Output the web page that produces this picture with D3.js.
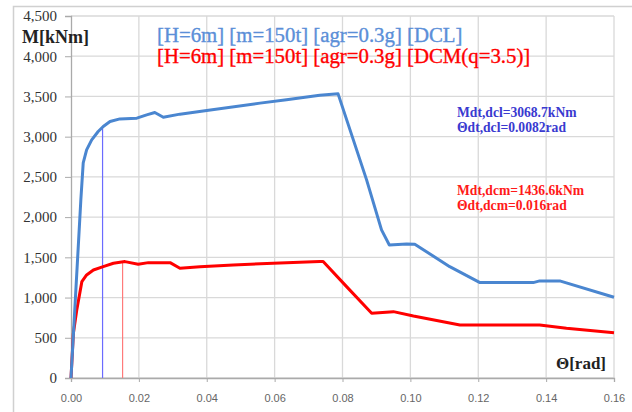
<!DOCTYPE html>
<html>
<head>
<meta charset="utf-8">
<script src="https://cdn.jsdelivr.net/npm/d3@7"></script>
<style>
  body { margin: 0; background: #fff; }
  svg { display: block; }
</style>
</head>
<body>
<svg width="632" height="412"></svg>
<script>
// DCL curve (blue), theta [rad] / M [kNm]
var dclTheta = [0, 0.0029, 0.0036, 0.0046, 0.0061, 0.0080, 0.0095, 0.0115, 0.0144, 0.0194, 0.0223, 0.0247, 0.0272, 0.0321, 0.040, 0.0557, 0.0635, 0.0733, 0.0787, 0.0871, 0.0915, 0.0938, 0.0989, 0.1013, 0.1116, 0.1205, 0.1362, 0.1381, 0.1440, 0.16];
var dclM     = [0, 2214, 2674, 2836, 2960, 3064, 3126, 3188, 3221, 3230, 3271, 3300, 3242, 3280, 3325, 3417, 3458, 3516, 3532, 2463, 1841, 1654, 1667, 1663, 1384, 1186, 1186, 1207, 1207, 1004];

// DCM curve (red)
var dcmTheta = [0, 0.0007, 0.0017, 0.0032, 0.0046, 0.0066, 0.0095, 0.0125, 0.0159, 0.0198, 0.0228, 0.0292, 0.0321, 0.038, 0.0478, 0.0596, 0.0733, 0.0743, 0.0812, 0.0886, 0.095, 0.1009, 0.1146, 0.1381, 0.146, 0.16];
var dcmM     = [0, 556, 846, 1198, 1281, 1343, 1384, 1426, 1447, 1414, 1434, 1434, 1364, 1384, 1405, 1426, 1447, 1447, 1136, 805, 825, 771, 659, 659, 618, 563];

// target displacement markers (as drawn)
var markerTheta = [0.0093, 0.0152];
var markerM = [3110, 1440];

var yTicks = [0, 500, 1000, 1500, 2000, 2500, 3000, 3500, 4000, 4500];
var xTicks = [0, 0.02, 0.04, 0.06, 0.08, 0.10, 0.12, 0.14, 0.16];

var titleDcl = "[H=6m] [m=150t] [agr=0.3g] [DCL]";
var titleDcm = "[H=6m] [m=150t] [agr=0.3g] [DCM(q=3.5)]";
var noteDcl = ["Mdt,dcl=3068.7kNm", "\u0398dt,dcl=0.0082rad"];
var noteDcm = ["Mdt,dcm=1436.6kNm", "\u0398dt,dcm=0.016rad"];

var svg = d3.select("svg");
var serif = "'Liberation Serif', 'Times New Roman', serif";

// outer chart frame
svg.append("rect")
    .attr("x", 13.5).attr("y", 6.5)
    .attr("width", 640).attr("height", 420)
    .attr("fill", "none")
    .attr("stroke", "#d0d0d0")
    .attr("stroke-width", 1.5);

var x = d3.scaleLinear().domain([0, 0.16]).range([71, 614]);
var y = d3.scaleLinear().domain([0, 4500]).range([378, 16]);

var g = svg.append("g");

// grid
g.selectAll(".hgrid").data(yTicks).enter().append("line")
    .attr("x1", x(0)).attr("x2", x(0.16))
    .attr("y1", function(d) { return y(d); })
    .attr("y2", function(d) { return y(d); })
    .attr("stroke", "#d9d9d9").attr("stroke-width", 1.3);

g.selectAll(".vgrid").data(xTicks.slice(1)).enter().append("line")
    .attr("y1", y(0)).attr("y2", y(4500))
    .attr("x1", function(d) { return x(d); })
    .attr("x2", function(d) { return x(d); })
    .attr("stroke", "#d9d9d9").attr("stroke-width", 1.3);

// axes
var yAxis = g.append("g")
    .attr("transform", "translate(" + x(0) + ",0)")
    .call(d3.axisLeft(y).tickValues(yTicks).tickSize(6).tickPadding(8)
      .tickFormat(d3.format(",")));
yAxis.attr("font-family", null).attr("font-size", null);
yAxis.select(".domain").attr("stroke", "#aaa").attr("stroke-width", 1.3);
yAxis.selectAll(".tick line").attr("stroke", "#aaa");
yAxis.selectAll("text")
    .style("font-family", serif).style("font-size", "15px")
    .attr("fill", "#333");

var xAxis = g.append("g")
    .attr("transform", "translate(0," + y(0) + ")")
    .call(d3.axisBottom(x).tickValues(xTicks).tickSize(4).tickPadding(12)
      .tickFormat(d3.format(".2f")));
xAxis.select(".domain").attr("stroke", "#aaa").attr("stroke-width", 1.3);
xAxis.selectAll(".tick line").attr("stroke", "#aaa");
xAxis.selectAll("text")
    .style("font-family", "'Liberation Sans Narrow', 'Liberation Sans', Arial, sans-serif")
    .style("font-size", "11px")
    .attr("fill", "#666");

// marker lines
var markerColors = ["#6b6bff", "#ff7a7a"];
g.selectAll(".marker").data(markerTheta).enter().append("line")
    .attr("x1", function(d) { return x(d); })
    .attr("x2", function(d) { return x(d); })
    .attr("y1", y(0))
    .attr("y2", function(d, i) { return y(markerM[i]); })
    .attr("stroke", function(d, i) { return markerColors[i]; })
    .attr("stroke-width", 1.2);

var line = d3.line()
    .x(function(d) { return x(d[0]); })
    .y(function(d) { return y(d[1]); });

g.append("path")
    .datum(d3.zip(dcmTheta, dcmM))
    .attr("fill", "none")
    .attr("stroke", "#ff0000")
    .attr("stroke-width", 3)
    .attr("stroke-linejoin", "round")
    .attr("d", line);

g.append("path")
    .datum(d3.zip(dclTheta, dclM))
    .attr("fill", "none")
    .attr("stroke", "#4a86d0")
    .attr("stroke-width", 3)
    .attr("stroke-linejoin", "round")
    .attr("d", line);

// titles
svg.append("text").attr("x", 157).attr("y", 42)
    .attr("font-family", serif).attr("font-size", 20.8)
    .attr("fill", "#5b8fd8").attr("stroke", "#5b8fd8").attr("stroke-width", 0.35)
    .text(titleDcl);
svg.append("text").attr("x", 157).attr("y", 63)
    .attr("font-family", serif).attr("font-size", 20.8)
    .attr("fill", "#ff0000").attr("stroke", "#ff0000").attr("stroke-width", 0.35)
    .text(titleDcm);

// axis titles
svg.append("text").attr("x", 22).attr("y", 43)
    .attr("font-family", serif).attr("font-size", 18).attr("font-weight", "bold")
    .attr("fill", "#222").text("M[kNm]");
svg.append("text").attr("x", 606).attr("y", 369)
    .attr("text-anchor", "end")
    .attr("font-family", serif).attr("font-size", 17).attr("font-weight", "bold")
    .attr("fill", "#222").text("\u0398[rad]");

// notes
svg.selectAll(".ndcl").data(noteDcl).enter().append("text")
    .attr("x", 457).attr("y", function(d, i) { return 117 + i * 15; })
    .attr("font-family", serif).attr("font-size", 13.6).attr("font-weight", "bold")
    .attr("fill", "#3a3ad0").text(function(d) { return d; });
svg.selectAll(".ndcm").data(noteDcm).enter().append("text")
    .attr("x", 457).attr("y", function(d, i) { return 195 + i * 15; })
    .attr("font-family", serif).attr("font-size", 13.6).attr("font-weight", "bold")
    .attr("fill", "#ff1a1a").text(function(d) { return d; });
</script>
</body>
</html>
